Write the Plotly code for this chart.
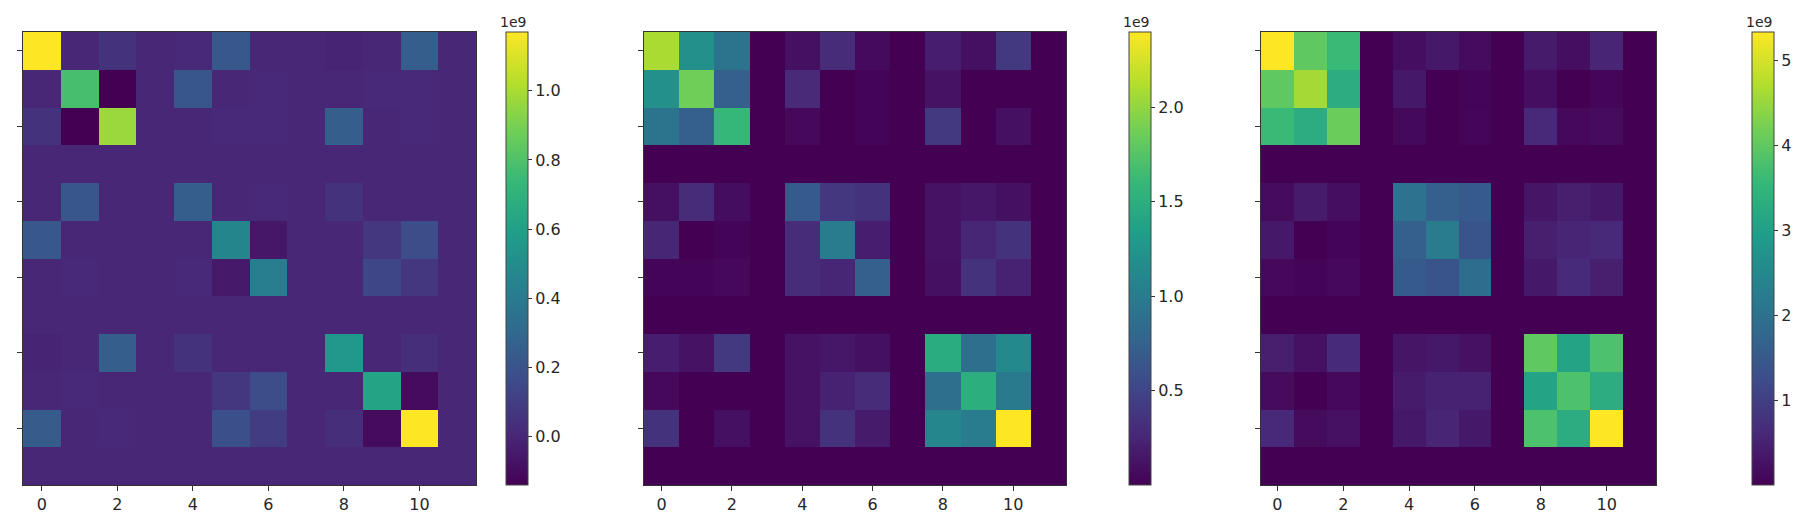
import plotly.graph_objects as go

# three 12x12 matrices, values in units of 1e9 (row 0 at top)
cells = list(range(12))
x_ticks = [0, 2, 4, 6, 8, 10]

diff_matrix = [
    [1.17, 0.00, 0.05, 0.00, 0.01, 0.22, 0.00, 0.00, -0.01, 0.00, 0.25, 0.00],
    [0.00, 0.78, -0.14, 0.00, 0.21, 0.00, 0.01, 0.00, 0.00, 0.01, 0.01, 0.00],
    [0.05, -0.14, 0.97, 0.00, 0.00, 0.01, 0.01, 0.00, 0.25, 0.00, 0.01, 0.00],
    [0.00, 0.00, 0.00, 0.00, 0.00, 0.00, 0.00, 0.00, 0.00, 0.00, 0.00, 0.00],
    [0.00, 0.21, 0.00, 0.00, 0.25, 0.00, 0.01, 0.00, 0.05, 0.00, 0.00, 0.00],
    [0.22, 0.00, 0.00, 0.00, 0.00, 0.46, -0.06, 0.00, 0.00, 0.07, 0.17, 0.00],
    [0.00, 0.01, 0.00, 0.00, 0.01, -0.05, 0.42, 0.00, 0.00, 0.14, 0.07, 0.00],
    [0.00, 0.00, 0.00, 0.00, 0.00, 0.00, 0.00, 0.00, 0.00, 0.00, 0.00, 0.00],
    [-0.01, 0.00, 0.25, 0.00, 0.05, 0.00, 0.00, 0.00, 0.56, 0.00, 0.03, 0.00],
    [0.00, 0.01, 0.00, 0.00, 0.00, 0.07, 0.17, 0.00, 0.00, 0.62, -0.10, 0.00],
    [0.24, 0.00, 0.01, 0.00, 0.00, 0.18, 0.10, 0.00, 0.03, -0.10, 1.17, 0.00],
    [0.00, 0.00, 0.00, 0.00, 0.00, 0.00, 0.00, 0.00, 0.00, 0.00, 0.00, 0.00],
]

mid_matrix = [
    [2.09, 1.20, 0.92, 0.00, 0.10, 0.30, 0.06, 0.00, 0.20, 0.10, 0.40, 0.00],
    [1.20, 1.87, 0.72, 0.00, 0.28, 0.00, 0.03, 0.00, 0.12, 0.00, 0.00, 0.00],
    [0.92, 0.72, 1.60, 0.00, 0.05, 0.00, 0.03, 0.00, 0.40, 0.00, 0.10, 0.00],
    [0.00, 0.00, 0.00, 0.00, 0.00, 0.00, 0.00, 0.00, 0.00, 0.00, 0.00, 0.00],
    [0.10, 0.30, 0.08, 0.00, 0.68, 0.38, 0.35, 0.00, 0.12, 0.15, 0.10, 0.00],
    [0.25, 0.00, 0.02, 0.00, 0.30, 1.00, 0.20, 0.00, 0.12, 0.25, 0.35, 0.00],
    [0.03, 0.02, 0.05, 0.00, 0.30, 0.25, 0.72, 0.00, 0.10, 0.35, 0.22, 0.00],
    [0.00, 0.00, 0.00, 0.00, 0.00, 0.00, 0.00, 0.00, 0.00, 0.00, 0.00, 0.00],
    [0.20, 0.12, 0.40, 0.00, 0.12, 0.15, 0.10, 0.00, 1.48, 0.87, 1.13, 0.00],
    [0.05, 0.00, 0.00, 0.00, 0.12, 0.22, 0.30, 0.00, 0.87, 1.50, 0.98, 0.00],
    [0.35, 0.00, 0.10, 0.00, 0.12, 0.35, 0.18, 0.00, 1.10, 1.00, 2.40, 0.00],
    [0.00, 0.00, 0.00, 0.00, 0.00, 0.00, 0.00, 0.00, 0.00, 0.00, 0.00, 0.00],
]

full_matrix = [
    [5.33, 4.00, 3.60, 0.00, 0.20, 0.35, 0.15, 0.00, 0.40, 0.20, 0.55, 0.00],
    [4.00, 4.60, 3.30, 0.00, 0.35, 0.00, 0.05, 0.00, 0.20, 0.00, 0.08, 0.00],
    [3.60, 3.30, 4.10, 0.00, 0.12, 0.00, 0.08, 0.00, 0.60, 0.10, 0.15, 0.00],
    [0.00, 0.00, 0.00, 0.00, 0.00, 0.00, 0.00, 0.00, 0.00, 0.00, 0.00, 0.00],
    [0.15, 0.40, 0.20, 0.00, 2.00, 1.60, 1.50, 0.00, 0.30, 0.45, 0.35, 0.00],
    [0.35, 0.00, 0.05, 0.00, 1.60, 2.20, 1.40, 0.00, 0.45, 0.55, 0.60, 0.00],
    [0.10, 0.05, 0.10, 0.00, 1.50, 1.40, 1.90, 0.00, 0.35, 0.65, 0.45, 0.00],
    [0.00, 0.00, 0.00, 0.00, 0.00, 0.00, 0.00, 0.00, 0.00, 0.00, 0.00, 0.00],
    [0.45, 0.25, 0.65, 0.00, 0.30, 0.35, 0.25, 0.00, 4.00, 3.10, 3.80, 0.00],
    [0.15, 0.00, 0.10, 0.00, 0.40, 0.50, 0.50, 0.00, 3.10, 3.80, 3.30, 0.00],
    [0.60, 0.15, 0.25, 0.00, 0.35, 0.55, 0.35, 0.00, 3.80, 3.30, 5.33, 0.00],
    [0.00, 0.00, 0.00, 0.00, 0.00, 0.00, 0.00, 0.00, 0.00, 0.00, 0.00, 0.00],
]

cbar_ticks = [
    [0.0, 0.2, 0.4, 0.6, 0.8, 1.0],
    [0.5, 1.0, 1.5, 2.0],
    [1, 2, 3, 4, 5],
]
cbar_labels = [
    ["0.0", "0.2", "0.4", "0.6", "0.8", "1.0"],
    ["0.5", "1.0", "1.5", "2.0"],
    ["1", "2", "3", "4", "5"],
]

W, H = 1800, 513
FONT = "DejaVu Sans"
TXT = "#262626"

# pixel boxes
panels = [(15, 468), (636, 1058), (1253, 1648)]
cbars = [498, 1121, 1744]
top, bottom = 24, 477

fig = go.Figure()
for i, z in enumerate([diff_matrix, mid_matrix, full_matrix]):
    n = "" if i == 0 else str(i + 1)
    fig.add_trace(go.Heatmap(
        z=z, x=cells, y=cells, colorscale="Viridis",
        xaxis="x" + n, yaxis="y" + n,
        colorbar=dict(
            x=cbars[i] / W, xanchor="left", xpad=0, ypad=0,
            y=1 - (top + bottom) / 2 / H, yanchor="middle",
            thickness=22, thicknessmode="pixels",
            len=bottom - top, lenmode="pixels",
            outlinewidth=1, outlinecolor="#444",
            ticks="outside", ticklen=4, tickcolor="#333",
            tickvals=cbar_ticks[i], ticktext=cbar_labels[i],
            tickfont=dict(family=FONT, size=16, color=TXT),
        ),
        hovertemplate="x=%{x}<br>y=%{y}<br>%{z}e9<extra></extra>",
    ))
    x0, x1 = panels[i]
    common = dict(showline=True, linecolor="#333", linewidth=1, mirror=True,
                  ticks="outside", ticklen=5, tickcolor="#333",
                  showgrid=False, zeroline=False)
    fig.layout["xaxis" + n] = dict(
        domain=[x0 / W, x1 / W], range=[-0.5, 11.5], tickvals=x_ticks,
        tickfont=dict(family=FONT, size=16, color=TXT),
        anchor="y" + n, **common)
    fig.layout["yaxis" + n] = dict(
        domain=[1 - bottom / H, 1 - top / H], range=[11.5, -0.5],
        tickvals=x_ticks, showticklabels=False,
        anchor="x" + n, **common)
    fig.add_annotation(text="1e9", xref="paper", yref="paper",
                       x=(cbars[i] + 22) / W, y=1 - top / H,
                       xanchor="right", yanchor="bottom", showarrow=False,
                       font=dict(family=FONT, size=14, color=TXT))

fig.update_layout(width=W, height=H,
                  margin=dict(l=0, r=0, t=0, b=0, autoexpand=False),
                  paper_bgcolor="white", plot_bgcolor="white")

fig.write_html("out.html")
